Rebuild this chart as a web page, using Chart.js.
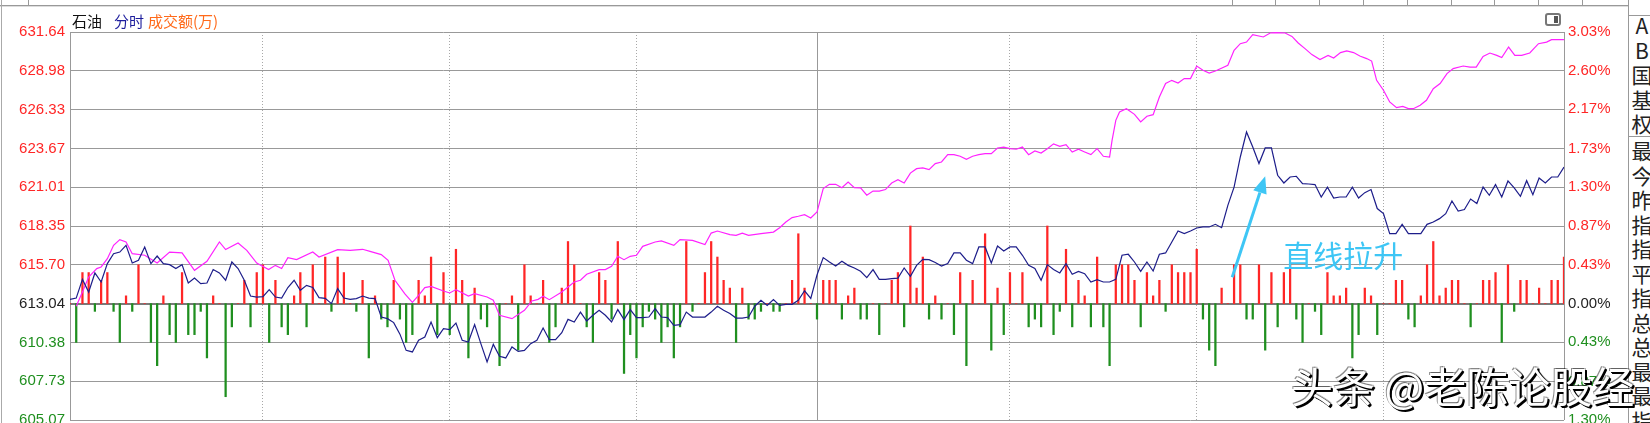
<!DOCTYPE html>
<html>
<head>
<meta charset="utf-8">
<script src="https://cdn.jsdelivr.net/npm/chart.js@4.4.1/dist/chart.umd.min.js"></script>
<style>
  html, body { margin: 0; padding: 0; background: #fff; }
  #wrap { position: relative; width: 1650px; height: 423px; overflow: hidden; background: #fff; font-family: "Noto Sans CJK SC", sans-serif; }
  #chartBox { position: absolute; left: 0; top: 0; width: 1628px; height: 423px; }
  .hline { position: absolute; height: 0; border-top: 1px solid #999; }
  .vline { position: absolute; width: 0; border-left: 1px solid #999; }
  .title { position: absolute; top: 12px; font-size: 15px; line-height: 17px; white-space: nowrap; }
  .side { position: absolute; left: 1631px; width: 22px; font-size: 21px; line-height: 24.5px; color: #222; text-align: center; }
  #mark { position: absolute; left: 1291px; top: 364px; font-size: 42px; line-height: 42px; color: #fff; white-space: nowrap;
          text-shadow: 2px 2px 0 #000, 1px 1px 0 #000, 2px 1px 0 #111, -1px -1px 0 rgba(0,0,0,0.45), 1px -1px 0 rgba(0,0,0,0.3); }
  #icon { position: absolute; left: 1545px; top: 13px; width: 12px; height: 9px; border: 2px solid #777; border-radius: 3px; background: #fff; }
  #icon div { position: absolute; right: 1px; top: 1px; width: 4px; height: 7px; background: #555; }
</style>
</head>
<body>
<div id="wrap">
  <div id="chartBox"><canvas id="c" width="1628" height="423"></canvas></div>

  <!-- window frame -->
  <div class="hline" style="left:0;top:5px;width:1628px;"></div>
  <div class="hline" style="left:0;top:6px;width:1628px;border-color:#ddd;"></div>
  <div class="vline" style="left:1px;top:0;height:423px;border-color:#aaa;"></div>
  <div class="vline" style="left:28px;top:0;height:5px;"></div>
  <div class="vline" style="left:1232px;top:0;height:5px;"></div>
  <div class="vline" style="left:1275px;top:0;height:5px;"></div>
  <div class="vline" style="left:1319px;top:0;height:5px;"></div>
  <div class="vline" style="left:1363px;top:0;height:5px;"></div>
  <div class="vline" style="left:1407px;top:0;height:5px;"></div>
  <div class="vline" style="left:1451px;top:0;height:5px;"></div>
  <div class="vline" style="left:1494px;top:0;height:5px;"></div>
  <div class="vline" style="left:1538px;top:0;height:5px;"></div>
  <div class="vline" style="left:1582px;top:0;height:5px;"></div>
  <div class="vline" style="left:1628px;top:0;height:423px;"></div>
  <div class="hline" style="left:1628px;top:15px;width:22px;"></div>
  <div class="hline" style="left:1628px;top:136px;width:22px;"></div>
  <div id="icon"><div></div></div>

  <div class="title" style="left:72px;color:#111;">石油</div>
  <div class="title" style="left:114px;color:#1c1c9c;">分时</div>
  <div class="title" style="left:148px;color:#ff6a1a;">成交额(万)</div>

  <div class="side" style="top:13px;">A<br>B<br>国<br>基<br>权</div>
  <div class="side" style="top:138px;">最<br>今<br>昨<br>指<br>指<br>平<br>指<br>总<br>总<br>最<br>最<br>指</div>

  <div id="mark">头条 @老陈论股经</div>
</div>

<script>
// price axis ticks (left) and matching percent ticks (right)
const PRICE_TICKS = [605.07, 607.73, 610.38, 613.04, 615.70, 618.35, 621.01, 623.67, 626.33, 628.98, 631.64];
const PCT_TICKS = [-1.30, -0.87, -0.43, 0.00, 0.43, 0.87, 1.30, 1.73, 2.17, 2.60, 3.03];
const PREV_CLOSE = 613.04;

// minute index of the half-hour separators (0 = open, 240 = close)
const TIME_GRID = [0, 31, 61, 91, 120, 151, 181, 211, 240];
const LUNCH = 120;

// 分时 price, one value per minute 0..240
const PRICE = [
  613.33, 613.42, 614.70, 613.83, 615.14, 614.52, 615.78, 616.46, 616.57, 617.03,
  615.82, 616.01, 616.92, 615.78, 616.30, 615.78, 615.71, 615.44, 615.71, 614.45,
  614.79, 614.41, 614.45, 615.37, 615.14, 614.64, 615.89, 615.44, 614.64, 613.56,
  613.49, 613.52, 614.00, 613.49, 613.42, 614.14, 614.64, 613.95, 614.29, 614.14,
  613.45, 613.40, 613.04, 614.07, 613.42, 613.33, 613.38, 613.56, 613.42, 613.38,
  612.12, 612.01, 611.74, 610.95, 609.84, 609.73, 610.53, 610.75, 611.78, 610.71,
  611.33, 611.26, 611.71, 610.53, 610.41, 611.60, 610.30, 609.04, 610.25, 609.43,
  609.32, 610.07, 609.77, 609.84, 610.30, 610.53, 611.37, 610.57, 610.57, 611.05,
  611.96, 611.78, 612.46, 611.85, 612.24, 612.58, 612.24, 611.78, 612.63, 611.94,
  612.63, 612.08, 612.08, 612.12, 612.70, 612.12, 612.08, 611.55, 611.60, 612.46,
  612.12, 612.12, 612.12, 612.46, 612.86, 612.58, 612.36, 612.05, 612.05, 612.12,
  612.86, 613.27, 612.92, 613.31, 612.92, 612.99, 612.99, 613.27, 613.92, 613.40,
  615.00, 616.19, 615.89, 615.61, 615.94, 615.66, 615.48, 615.25, 614.82, 615.37,
  614.70, 614.70, 614.75, 614.79, 615.48, 614.91, 615.66, 616.07, 616.05, 615.85,
  615.61, 615.78, 616.51, 616.51, 616.01, 615.78, 616.92, 616.92, 615.82, 616.98,
  616.64, 616.92, 616.92, 616.35, 615.66, 615.44, 614.64, 615.71, 615.37, 615.14,
  615.78, 615.05, 615.25, 615.09, 614.52, 614.68, 614.52, 614.52, 614.70, 616.35,
  616.42, 615.89, 615.25, 615.89, 615.27, 616.42, 616.51, 617.26, 618.01, 617.83,
  618.01, 618.22, 618.29, 618.29, 618.47, 618.24, 619.77, 621.02, 623.08, 624.79,
  623.76, 622.63, 623.70, 623.70, 621.83, 621.30, 621.71, 621.76, 621.26, 621.23,
  621.19, 620.34, 621.02, 620.27, 620.34, 620.34, 621.02, 620.27, 620.64, 620.85,
  619.55, 619.20, 617.83, 617.83, 618.47, 617.83, 617.83, 617.83, 618.47, 618.63,
  618.86, 619.20, 620.07, 619.38, 619.48, 620.20, 619.89, 621.02, 620.46, 621.19,
  620.34, 621.44, 620.96, 620.39, 621.46, 620.50, 621.64, 621.30, 621.71, 621.71,
  622.39
];

// magenta reference line: minute positions and values (same price scale)
const REF_MIN = [
  1, 2, 3, 4.3, 5, 6, 7, 8, 9, 10, 12, 14, 16, 18, 20, 22, 24, 25, 27, 28.4,
  30, 31.9, 33, 34, 35, 36.4, 39, 40, 43, 45, 47, 48.2, 50, 51.1, 52.2, 53.8, 55, 56, 57, 58,
  60, 61, 62, 64, 65, 67, 68, 69, 71, 73, 74.2, 75.2, 76, 77, 79, 81, 82, 83, 85, 86,
  87, 88, 89, 90, 91, 92, 94, 95, 97, 98, 100, 102, 103, 104, 106, 107, 108, 109, 111, 113,
  114, 115, 116, 117, 118, 119, 120, 121, 122, 123, 124, 125, 126, 127, 128, 129, 130, 131, 132, 133,
  134, 135, 136, 137, 138, 139, 140, 141, 142, 143, 144, 145, 146, 147, 148, 149, 150, 151, 152, 153,
  154, 155, 156, 157, 158, 159, 160, 161, 162, 163, 164, 165, 166, 167, 167.4, 168, 168.6, 169.7, 171, 172,
  173, 174, 175, 176, 177, 178, 179, 180, 181, 182, 183, 184, 186, 187, 188, 189, 190, 191.7, 192.8, 193.6,
  195.2, 196.3, 197.3, 198.4, 199.5, 200.8, 202.1, 203, 204.1, 205.1, 206.2, 207.2, 208.3, 209.1, 209.9, 211, 212, 213.1, 214.1, 215,
  215.8, 216.9, 217.9, 219, 220.1, 221.2, 222.2, 223.8, 224.9, 225.9, 227, 228.1, 229.2, 230, 231.1, 232.1, 233.2, 234.5, 235.9, 237.2,
  238, 240
];
const REF_VAL = [
  612.86, 613.83, 614.86, 615.44, 615.55, 616.12, 617.03, 617.42, 617.26, 616.46, 616.35, 615.82, 616.57, 616.51, 615.32, 615.94, 617.26, 616.74, 617.19, 616.69,
  615.82, 615.37, 615.66, 615.44, 616.19, 616.05, 616.57, 616.23, 616.74, 616.69, 616.76, 616.62, 616.40, 616.01, 614.64, 613.70, 613.12, 613.61, 614.14, 614.22,
  613.90, 613.77, 614.00, 613.56, 613.72, 613.49, 613.27, 612.24, 612.01, 612.58, 613.22, 613.33, 613.54, 613.31, 613.83, 614.52, 614.64, 615.05, 615.37, 615.37,
  615.59, 616.28, 616.05, 616.28, 616.35, 616.96, 617.26, 617.33, 617.03, 617.42, 617.37, 617.08, 617.87, 618.01, 617.77, 617.72, 617.87, 617.72, 617.83, 617.94,
  618.24, 618.63, 618.93, 619.02, 619.13, 618.90, 619.31, 620.92, 621.21, 621.21, 620.98, 621.37, 620.98, 620.96, 620.46, 620.75, 620.75, 620.85, 621.30, 621.53,
  621.30, 621.98, 622.28, 622.33, 622.22, 622.63, 622.74, 623.24, 623.24, 623.13, 622.92, 623.13, 623.24, 623.31, 623.31, 623.70, 623.76, 623.65, 623.61, 623.76,
  623.24, 623.49, 623.35, 623.65, 623.98, 623.81, 623.93, 623.42, 623.61, 623.42, 623.24, 623.65, 623.13, 623.08, 624.22, 625.59, 626.16, 626.39, 626.00, 625.48,
  625.87, 625.98, 627.19, 628.11, 628.33, 628.15, 628.45, 628.45, 629.31, 629.02, 628.83, 628.97, 629.36, 630.39, 630.84, 630.95, 631.46, 631.30, 631.57, 631.60,
  631.57, 631.34, 630.89, 630.50, 630.09, 629.75, 630.04, 629.86, 630.23, 630.34, 630.23, 630.00, 629.82, 629.65, 628.33, 627.65, 626.85, 626.46, 626.55, 626.39,
  626.39, 626.62, 626.96, 627.76, 628.11, 628.79, 629.13, 629.31, 629.24, 629.24, 629.97, 630.20, 630.04, 629.89, 630.61, 630.04, 630.04, 630.20, 630.84, 630.95,
  631.12, 631.12
];

// 成交额 bars per minute 0..240 (positive = red, negative = green)
const AMOUNT = [
   0, -5,  4,  4, -1,  3,  4, -1, -5,  1, -1,  5,  0, -5, -8,  1, -4, -5,  4, -4,
  -4, -1, -7,  1,  0,-12, -3,  0,  3, -3,  4,  5, -5,  3, -3, -4,  1,  4, -3,  5,
   0,  6, -1,  6,  4,  0, -1,  3, -7,  1, -2, -3,  3, -2, -5, -4,  3,  1,  6, -4,
   4, -4,  7,  3, -7,  2, -2, -3,  0, -8,  0,  1, -6,  5,  1,  0,  3, -5, -3,  2,
   8,  5,  0, -3, -5,  4,  3, -2,  8, -9, -4, -7, -3, -1, -2, -5, -3, -7, -3,  8,
  -1,  0,  4,  8,  6,  3,  2, -5,  2, -2, -2, -1,  0, -1, -1,  0,  3,  9,  2,  0,
  -2,  3,  3,  3, -2,  1,  2, -2, -2,  0, -4,  0,  3,  4, -3, 10,  2,  6, -2,  1,
  -2,  0, -4,  4, -8,  3,  0,  9, -6,  2, -4,  4,  0,  4, -3, -2, -3, 10, -4, -1,
   7, -3,  3,  1, -3,  6, -3, -8,  5,  5,  5,  3, -3,  4,  1,  3, -1,  5,  4,  4,
   4,  7, -2, -6, -8,  2,  0,  5,  5, -2, -2,  5, -6,  4, -3,  4,  5, -2, -5,  0,
  -1, -4,  4,  1,  1,  2, -7, -4,  2,  1, -4,  0,  0,  3,  3, -2, -3,  1,  5,  8,
   1,  2,  3,  3,  0, -3,  0,  3,  3,  4, -5,  5, -1,  3,  3,  0,  2,  0,  3,  3,
   6
];

// annotation: arrow from/to (minute, price) and label anchor
const ARROW_FROM = [186.7, 614.84];
const ARROW_TO = [192.0, 621.76];
const NOTE_AT = [194.9, 616.35];
const NOTE_TEXT = '直线拉升';

const RED = '#ff2626';
const GREEN = '#1f8f1f';
const NAVY = '#1d1d8a';
const MAGENTA = '#ff22ff';
const SKY = '#3ec6f5';
const GRID = '#999999';

function sideColor(v, mid) {
  if (Math.abs(v - mid) < 0.005) return '#222';
  return v > mid ? RED : GREEN;
}

function isSolidTime(ctx) {
  return ctx.tick && (ctx.tick.value === 0 || ctx.tick.value === LUNCH || ctx.tick.value === 240);
}

const notePlugin = {
  id: 'note',
  afterDatasetsDraw(chart) {
    const { ctx } = chart;
    const xs = chart.scales.x;
    const ys = chart.scales.y;
    const x0 = xs.getPixelForValue(ARROW_FROM[0]);
    const y0 = ys.getPixelForValue(ARROW_FROM[1]);
    const x1 = xs.getPixelForValue(ARROW_TO[0]);
    const y1 = ys.getPixelForValue(ARROW_TO[1]);
    const ang = Math.atan2(y1 - y0, x1 - x0);
    const head = 17;
    const bx = x1 - head * Math.cos(ang);
    const by = y1 - head * Math.sin(ang);
    ctx.save();
    ctx.strokeStyle = SKY;
    ctx.fillStyle = SKY;
    ctx.lineWidth = 3;
    ctx.beginPath();
    ctx.moveTo(x0, y0);
    ctx.lineTo(bx, by);
    ctx.stroke();
    ctx.beginPath();
    ctx.moveTo(x1, y1);
    ctx.lineTo(bx + 7 * Math.sin(ang), by - 7 * Math.cos(ang));
    ctx.lineTo(bx - 7 * Math.sin(ang), by + 7 * Math.cos(ang));
    ctx.closePath();
    ctx.fill();
    ctx.font = '30px "Noto Sans CJK SC"';
    ctx.textBaseline = 'middle';
    ctx.fillText(NOTE_TEXT, xs.getPixelForValue(NOTE_AT[0]), ys.getPixelForValue(NOTE_AT[1]));
    ctx.restore();
  }
};

new Chart(document.getElementById('c'), {
  type: 'line',
  data: {
    datasets: [
      {
        label: '分时',
        data: PRICE.map((p, i) => ({ x: i, y: p })),
        borderColor: NAVY,
        borderWidth: 1.2,
        pointRadius: 0,
        tension: 0,
        yAxisID: 'y'
      },
      {
        label: 'ref',
        data: REF_MIN.map((m, i) => ({ x: m, y: REF_VAL[i] })),
        borderColor: MAGENTA,
        borderWidth: 1.2,
        pointRadius: 0,
        tension: 0,
        yAxisID: 'y'
      },
      {
        type: 'bar',
        label: '成交额',
        data: AMOUNT.map((v, i) => ({ x: i, y: v })),
        backgroundColor: ctx => (ctx.raw && ctx.raw.y < 0 ? GREEN : RED),
        barThickness: 1.6,
        borderWidth: 0,
        yAxisID: 'yv'
      }
    ]
  },
  options: {
    responsive: false,
    devicePixelRatio: 1,
    animation: false,
    layout: { padding: { top: 32, bottom: 3, left: 0, right: 0 } },
    plugins: { legend: { display: false }, tooltip: { enabled: false } },
    scales: {
      x: {
        type: 'linear',
        min: 0,
        max: 240,
        offset: false,
        afterBuildTicks: s => { s.ticks = TIME_GRID.map(v => ({ value: v })); },
        afterFit: s => { s.height = 0; },
        ticks: { display: false },
        grid: {
          offset: false,
          drawTicks: false,
          lineWidth: 1,
          color: ctx => (isSolidTime(ctx) ? GRID : '#a8a8a8')
        },
        border: {
          display: false,
          dash: ctx => (isSolidTime(ctx) ? [] : [1, 2])
        }
      },
      y: {
        position: 'left',
        min: PRICE_TICKS[0],
        max: PRICE_TICKS[PRICE_TICKS.length - 1],
        afterBuildTicks: s => { s.ticks = PRICE_TICKS.map(v => ({ value: v })); },
        afterFit: s => { s.width = 70; s.paddingTop = 0; s.paddingBottom = 0; },
        ticks: {
          autoSkip: false,
          padding: 5,
          font: { family: 'Liberation Sans', size: 15 },
          color: ctx => sideColor(ctx.tick.value, PREV_CLOSE),
          callback: v => v.toFixed(2)
        },
        grid: {
          drawTicks: false,
          color: ctx => (ctx.tick && Math.abs(ctx.tick.value - PREV_CLOSE) < 0.005 ? '#7a7a7a' : GRID),
          lineWidth: ctx => (ctx.tick && Math.abs(ctx.tick.value - PREV_CLOSE) < 0.005 ? 2 : 1)
        },
        border: { display: false }
      },
      yp: {
        position: 'right',
        min: PCT_TICKS[0],
        max: PCT_TICKS[PCT_TICKS.length - 1],
        afterBuildTicks: s => { s.ticks = PCT_TICKS.map(v => ({ value: v })); },
        afterFit: s => { s.width = 64; s.paddingTop = 0; s.paddingBottom = 0; },
        ticks: {
          autoSkip: false,
          padding: 4,
          font: { family: 'Liberation Sans', size: 15 },
          color: ctx => sideColor(ctx.tick.value, 0),
          callback: v => Math.abs(v).toFixed(2) + '%'
        },
        grid: { drawOnChartArea: false, drawTicks: false },
        border: { display: false }
      },
      yv: {
        display: false,
        min: -15,
        max: 35
      }
    }
  },
  plugins: [notePlugin]
});
</script>
</body>
</html>
